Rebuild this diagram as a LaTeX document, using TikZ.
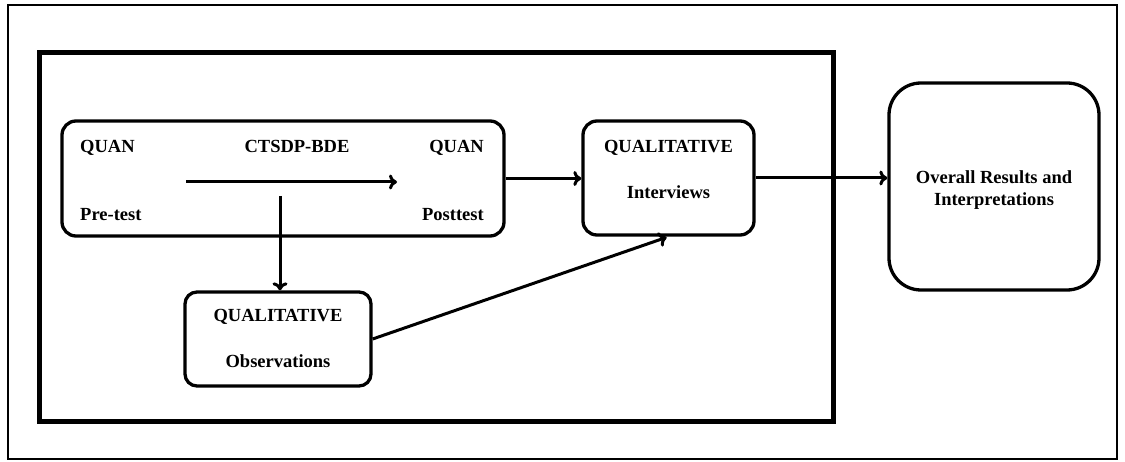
\documentclass[tikz,border=0pt]{standalone}
\usepackage{fontspec}
\setmainfont{Liberation Serif}
\usetikzlibrary{arrows.meta}
\tikzset{
	box/.style={draw, line width=3.3pt, rounded corners=14pt, inner sep=0pt},
	lbl/.style={inner sep=0pt, font=\fontsize{18.5}{22}\selectfont\bfseries},
	arr/.style={->, line width=3pt, >={To[length=8pt, width=15pt]}},
}
\begin{document}
\begin{tikzpicture}[x=1pt, y=-1pt]
		\useasboundingbox (0, 0) rectangle (1125, 462);

		% frames
		\draw[line width=2pt] (8, 5) rectangle (1117, 459);
		\draw[line width=5pt] (39, 53) rectangle (833, 421);

		% boxes
		\node[box, minimum width=442pt, minimum height=115pt] (quan) at (283, 178.5) {};
		\node[box, minimum width=186pt, minimum height=94pt, rounded corners=12pt] (obs) at (278, 339) {};
		\node[box, minimum width=171pt, minimum height=114pt] (intv) at (668.5, 178) {};
		\node[box, minimum width=210pt, minimum height=207pt, rounded corners=32pt] (res) at (994, 186.5) {};

		% texts
		\node[lbl, anchor=base west] (pre) at (80, 153) {QUAN};
		\node[lbl, anchor=base] (treat) at (297, 153) {CTSDP-BDE};
		\node[lbl, anchor=base east] (post) at (484, 153) {QUAN};
		\node[lbl, anchor=base west] (pretest) at (80, 221) {Pre-test};
		\node[lbl, anchor=base east] (posttest) at (484, 221) {Posttest};
		\node[lbl, anchor=base] (obsqual) at (278, 322) {QUALITATIVE};
		\node[lbl, anchor=base] (obstxt) at (278, 368) {Observations};
		\node[lbl, anchor=base] (intvqual) at (668.5, 153) {QUALITATIVE};
		\node[lbl, anchor=base] (intvtxt) at (668.5, 199) {Interviews};
		\node[lbl, anchor=base] (res1) at (994, 184) {Overall Results and};
		\node[lbl, anchor=base] (res2) at (994, 206) {Interpretations};

		% arrows
		\coordinate (t1) at (186, 182);
		\coordinate (t2) at (397, 182);
		\coordinate (v1) at (280, 196);
		\draw[arr] (t1) -- (t2);
		\draw[arr] (v1) -- (v1 |- obs.north);
		\draw[arr] (quan.east) -- (quan.east -| intv.west);
		\draw[arr] (intv.east) -- (intv.east -| res.west);
		\draw[arr, shorten >=2pt] (obs.east) -- (intv.south);
	\end{tikzpicture}
\end{document}
